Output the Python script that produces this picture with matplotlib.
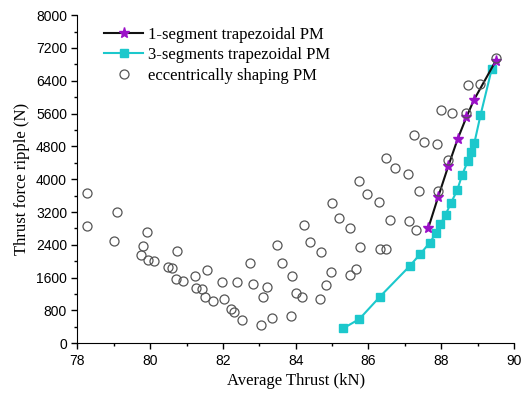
import numpy as np
import matplotlib.pyplot as plt
from matplotlib.ticker import MultipleLocator

# eccentrically shaping PM (scatter)
ecc_x = [78.26, 78.26, 78.99, 79.09, 79.74, 79.79, 79.93, 79.92, 80.11, 80.48,
         80.60, 80.73, 80.72, 80.91, 81.23, 81.27, 81.41, 81.51, 81.56, 81.72,
         81.98, 82.04, 82.23, 82.30, 82.38, 82.53, 82.73, 82.83, 83.04, 83.11,
         83.21, 83.34, 83.49, 83.62, 83.86, 83.90, 84.02, 84.16, 84.24, 84.39,
         84.69, 84.66, 84.84, 84.97, 84.99, 85.18, 85.48, 85.49, 85.66, 85.75,
         85.77, 85.95, 86.29, 86.31, 86.48, 86.49, 86.58, 86.74, 87.09, 87.11,
         87.26, 87.31, 87.40, 87.52, 87.89, 87.92, 88.00, 88.19, 88.30, 88.68,
         88.75, 89.08, 89.50]
ecc_y = [3659, 2864, 2486, 3192, 2150, 2363, 2027, 2716, 1994, 1854,
         1838, 2248, 1567, 1510, 1649, 1346, 1321, 1140, 1780, 1034,
         1502, 1091, 829, 755, 1502, 566, 1945, 1452, 435, 1124,
         1362, 607, 2396, 1961, 673, 1641, 1231, 1140, 2888, 2478,
         2224, 1091, 1411, 1731, 3413, 3044, 1666, 2806, 1822, 3947,
         2338, 3635, 3454, 2306, 2297, 4505, 2995, 4267, 4127, 2970,
         5071, 2773, 3700, 4907, 4857, 3700, 5678, 4464, 5604, 5604,
         6293, 6326, 6949]

# 1-segment trapezoidal PM
seg1_x = [87.65, 87.92, 88.20, 88.45, 88.69, 88.90, 89.50]
seg1_y = [2822, 3577, 4332, 4972, 5505, 5932, 6884]

# 3-segments trapezoidal PM
seg3_x = [85.30, 85.75, 86.32, 87.13, 87.43, 87.68, 87.86, 87.98, 88.12, 88.27,
          88.44, 88.58, 88.73, 88.82, 88.91, 89.08, 89.39, 89.50]
seg3_y = [361, 591, 1140, 1879, 2183, 2445, 2691, 2905, 3134, 3421,
          3733, 4111, 4439, 4652, 4874, 5555, 6687, 6900]

serif = ['Liberation Serif', 'DejaVu Serif']
sans = ['Liberation Sans', 'DejaVu Sans']

fig = plt.figure(figsize=(5.29, 3.94), dpi=100)
ax = fig.add_axes([0.1465, 0.1287, 0.825, 0.833])

ax.plot(seg1_x, seg1_y, color='#111111', linewidth=1.5, marker='*',
        markersize=8, markerfacecolor='#9b10c8', markeredgecolor='#9b10c8',
        label='1-segment trapezoidal PM', zorder=3)
ax.plot(seg3_x, seg3_y, color='#1cc8cc', linewidth=1.5, marker='s',
        markersize=5.5, markevery=list(range(len(seg3_x) - 1)),
        label='3-segments trapezoidal PM', zorder=2)
ax.plot(ecc_x, ecc_y, linestyle='none', marker='o', markersize=6.5,
        markerfacecolor='none', markeredgecolor='#555555', markeredgewidth=0.9,
        label='eccentrically shaping PM', zorder=4)

ax.set_xlim(78, 90)
ax.set_ylim(0, 8000)
ax.xaxis.set_major_locator(MultipleLocator(2))
ax.xaxis.set_minor_locator(MultipleLocator(1))
ax.yaxis.set_major_locator(MultipleLocator(800))
ax.yaxis.set_minor_locator(MultipleLocator(400))

for s in ['top', 'right']:
    ax.spines[s].set_visible(False)
ax.tick_params(which='major', direction='out', length=4, width=1, labelsize=10)
ax.tick_params(which='minor', direction='out', length=2.5, width=1)
for lab in ax.get_xticklabels() + ax.get_yticklabels():
    lab.set_family(sans)

ax.set_xlabel('Average Thrust (kN)', fontsize=12, family=serif)
ax.set_ylabel('Thrust force ripple (N)', fontsize=12, family=serif)

ax.legend(loc='upper left', bbox_to_anchor=(0.061, 0.965), frameon=False,
          prop={'family': serif, 'size': 12}, handlelength=2.35,
          handletextpad=0.3, labelspacing=0.28, borderaxespad=0, borderpad=0)

fig.savefig('out.png', dpi=100)
